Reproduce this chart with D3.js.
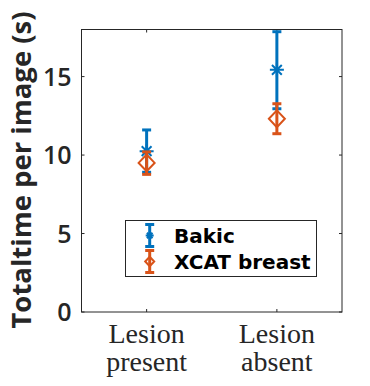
<!DOCTYPE html>
<meta charset="utf-8">
<style>
    body { margin: 0; background: #fff; }
    svg { display: block; }
    .ytick { font-family: "Open Sans", sans-serif; font-weight: 600; font-size: 25px; fill: #262626; }
    .xtick { font-family: "Liberation Serif", serif; font-size: 28px; fill: #262626; }
    .ylabel { font-family: "Open Sans", sans-serif; font-weight: bold; font-size: 27.5px; fill: #262626; }
    .legend text { font-family: "DejaVu Sans", sans-serif; font-weight: bold; font-size: 20px; fill: #000; }
</style>
<body>
<script src="https://d3js.org/d3.v7.min.js"></script>
<script>
    var categories = [["Lesion", "present"], ["Lesion", "absent"]];
    var seriesNames = ["Bakic", "XCAT breast"];
    var means = [[10.25, 15.43], [9.5, 12.31]];
    var lows = [[8.9, 12.95], [8.77, 11.36]];
    var highs = [[11.6, 17.86], [10.2, 13.27]];
    var yTicks = [0, 5, 10, 15];
    var colors = ["#0072BD", "#D95319"];

    var width = 370, height = 386;
    var margin = { left: 81.5, right: 28, top: 29.5, bottom: 74 };

    var svg = d3.select("body").append("svg")
        .attr("width", width)
        .attr("height", height);

    var x = d3.scaleLinear().domain([0.5, 2.5]).range([margin.left, width - margin.right]);
    var y = d3.scaleLinear().domain([0, 18]).range([height - margin.bottom, margin.top]);

    var x0 = x.range()[0], x1 = x.range()[1], y0 = y.range()[0], y1 = y.range()[1];

    // ticks (inside, mirrored)
    var tk = svg.append("g").attr("stroke", "#262626").attr("stroke-width", 1);
    yTicks.forEach(function (t) {
        tk.append("line").attr("x1", x0).attr("x2", x0 + 3).attr("y1", y(t)).attr("y2", y(t));
        tk.append("line").attr("x1", x1).attr("x2", x1 - 3).attr("y1", y(t)).attr("y2", y(t));
    });
    categories.forEach(function (c, i) {
        tk.append("line").attr("x1", x(i + 1)).attr("x2", x(i + 1)).attr("y1", y0).attr("y2", y0 - 3);
        tk.append("line").attr("x1", x(i + 1)).attr("x2", x(i + 1)).attr("y1", y1).attr("y2", y1 + 3);
    });

    svg.append("rect")
        .attr("x", x0).attr("y", y1)
        .attr("width", x1 - x0).attr("height", y0 - y1)
        .attr("fill", "none").attr("stroke", "#262626").attr("stroke-width", 1);

    svg.selectAll(".ytick").data(yTicks).enter().append("text")
        .attr("class", "ytick")
        .attr("x", x0 - 10)
        .attr("y", function (d) { return y(d); })
        .attr("dy", "0.36em")
        .attr("text-anchor", "end")
        .text(function (d) { return d; });

    categories.forEach(function (c, i) {
        var t = svg.append("text").attr("class", "xtick").attr("text-anchor", "middle");
        t.append("tspan").attr("x", x(i + 1)).attr("y", 343).text(c[0]);
        t.append("tspan").attr("x", x(i + 1)).attr("y", 371).text(c[1]);
    });

    svg.append("text")
        .attr("class", "ylabel")
        .attr("transform", "translate(31,170) rotate(-90)")
        .attr("text-anchor", "middle")
        .text("Totaltime per image (s)");

    function drawMarker(g, k, cx, cy, s) {
        var r = s, d;
        if (k == 0) {
            d = "M" + (cx - r) + "," + cy + "H" + (cx + r) +
                "M" + cx + "," + (cy - r) + "V" + (cy + r) +
                "M" + (cx - r * 0.7) + "," + (cy - r * 0.7) + "L" + (cx + r * 0.7) + "," + (cy + r * 0.7) +
                "M" + (cx - r * 0.7) + "," + (cy + r * 0.7) + "L" + (cx + r * 0.7) + "," + (cy - r * 0.7);
        } else {
            d = "M" + (cx - r) + "," + cy + "L" + cx + "," + (cy - r * 1.05) + "L" + (cx + r) + "," + cy + "L" + cx + "," + (cy + r * 1.05) + "Z";
        }
        g.append("path").attr("d", d)
            .attr("stroke", colors[k]).attr("stroke-width", 2).attr("fill", "none");
    }

    function drawErrorBar(g, k, cx, ylo, yhi, cap) {
        g.append("line").attr("x1", cx).attr("x2", cx).attr("y1", ylo).attr("y2", yhi)
            .attr("stroke", colors[k]).attr("stroke-width", 3);
        [ylo, yhi].forEach(function (yy) {
            g.append("line").attr("x1", cx - cap).attr("x2", cx + cap).attr("y1", yy).attr("y2", yy)
                .attr("stroke", colors[k]).attr("stroke-width", 3);
        });
    }

    var plot = svg.append("g");
    seriesNames.forEach(function (name, k) {
        var g = plot.append("g");
        means[k].forEach(function (m, i) {
            drawErrorBar(g, k, x(i + 1), y(lows[k][i]), y(highs[k][i]), 4.5);
            drawMarker(g, k, x(i + 1), y(m), k == 0 ? 7 : 8);
        });
    });

    // legend
    var lg = svg.append("g").attr("class", "legend");
    lg.append("rect")
        .attr("x", 125.5).attr("y", 220.5).attr("width", 191).attr("height", 56)
        .attr("fill", "#fff").attr("stroke", "#262626").attr("stroke-width", 1);
    seriesNames.forEach(function (name, k) {
        var cy = 235.5 + k * 26;
        drawErrorBar(lg, k, 149.7, cy + 11, cy - 11, 4.5);
        drawMarker(lg, k, 149.7, cy, k == 0 ? 4 : 4.5);
        lg.append("text").attr("x", 174).attr("y", cy + 7).text(name);
    });
</script>
</body>
